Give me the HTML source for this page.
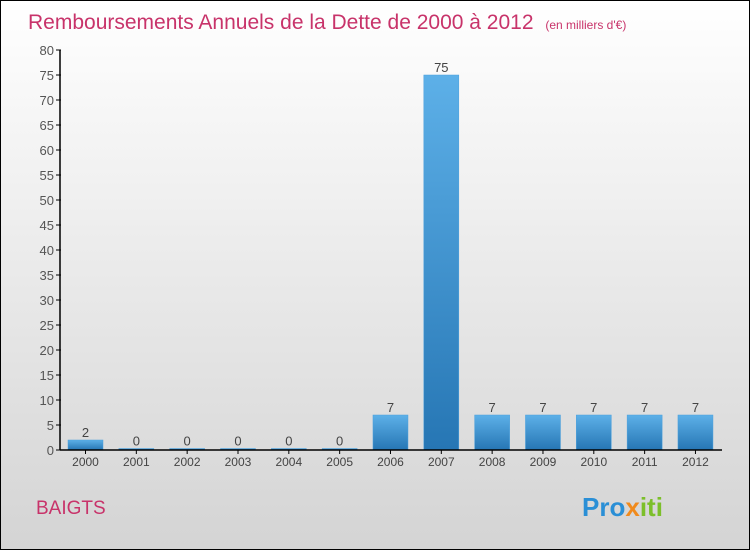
<!DOCTYPE html>
<html><head><meta charset="utf-8"><style>
body{margin:0;}
svg{display:block;font-family:"Liberation Sans",sans-serif;}
</style></head><body>
<svg id="chart" width="750" height="550">
<defs>
<linearGradient id="bg" x1="0" y1="0" x2="0" y2="1"><stop offset="0" stop-color="#ffffff"/><stop offset="1" stop-color="#d4d4d4"/></linearGradient>
<linearGradient id="bar" x1="0" y1="0" x2="0" y2="1"><stop offset="0" stop-color="#5db0e8"/><stop offset="1" stop-color="#2676b4"/></linearGradient>
</defs>
<rect x="0.5" y="0.5" width="749" height="549" fill="url(#bg)" stroke="#000"/>
<text x="28" y="29" font-size="21" fill="#c8336a">Remboursements Annuels de la Dette de 2000 à 2012 <tspan font-size="12" dx="6">(en milliers d'€)</tspan></text>
<g id="yaxis"></g><g id="bars"></g><g id="xaxis"></g>
<text x="36" y="514" font-size="19" fill="#c8336a">BAIGTS</text>
<text x="582" y="516" font-size="26" font-weight="bold"><tspan fill="#2a8fd6">Pro</tspan><tspan fill="#f08a1c">x</tspan><tspan fill="#7cbf2a">iti</tspan></text>
</svg>
<script>
const categories=["2000","2001","2002","2003","2004","2005","2006","2007","2008","2009","2010","2011","2012"];
const values=[2,0,0,0,0,0,7,75,7,7,7,7,7];
const yTicks=[0,5,10,15,20,25,30,35,40,45,50,55,60,65,70,75,80];
const NS="http://www.w3.org/2000/svg";
const x0=60,y0=450,yTop=50,yMax=80,slot=50.83,bw=35;
const y=v=>y0-(v/yMax)*(y0-yTop);
const xs=i=>x0+i*slot+8;
function mk(t,a,p){const e=document.createElementNS(NS,t);for(const k in a)e.setAttribute(k,a[k]);p.appendChild(e);return e;}
const ya=document.getElementById('yaxis'),ba=document.getElementById('bars'),xa=document.getElementById('xaxis');
const axl=mk('line',{x1:x0,y1:yTop,x2:x0,y2:y0,stroke:'#000','stroke-width':1.5},ya);


yTicks.forEach(t=>{
 const l=mk('line',{x1:x0-4,x2:x0+1,y1:y(t),y2:y(t),stroke:'#000'},ya);
 
 
 const tx=mk('text',{x:x0-6,y:y(t)+5,'text-anchor':'end','font-size':13,fill:'#555'},ya);
 tx.textContent=t;
 
 
});
const xl=mk('line',{x1:x0,y1:y0,x2:722,y2:y0,stroke:'#000','stroke-width':1.5},xa);


categories.forEach((c,i)=>{
 const v=values[i],top=y(v),h=Math.max(y0-top,1.5);
 const r=mk('rect',{x:xs(i),y:y0-h,width:bw,height:h,fill:'url(#bar)',stroke:'#4a9fdc','stroke-width':0.5},ba);
 
 
 const vl=mk('text',{x:xs(i)+bw/2,y:y0-h-3,'text-anchor':'middle','font-size':13,fill:'#444'},ba);
 vl.textContent=v;
 
 
 const tk=mk('line',{x1:xs(i)+bw/2,x2:xs(i)+bw/2,y1:y0,y2:y0+4,stroke:'#000'},xa);
 
 
 const xl2=mk('text',{x:xs(i)+bw/2,y:y0+16,'text-anchor':'middle','font-size':12,fill:'#444'},xa);
 xl2.textContent=c;
 
 
});
</script>
</body></html>
